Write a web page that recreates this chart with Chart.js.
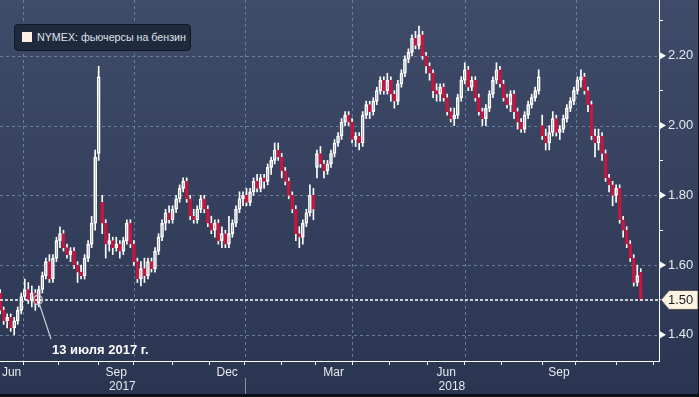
<!DOCTYPE html>
<html>
<head>
<meta charset="utf-8">
<script src="https://cdn.jsdelivr.net/npm/chart.js@4.4.1/dist/chart.umd.min.js"></script>
<style>
    html, body { margin: 0; padding: 0; }
    body {
        width: 699px; height: 397px; overflow: hidden; position: relative;
        background: linear-gradient(to bottom, #3f4c69 0%, #2a3551 100%);
        font-family: "Liberation Sans", Arial, sans-serif;
    }
    #c { position: absolute; left: 0; top: 0; }
    .legend {
        position: absolute; left: 14px; top: 24px; width: 177px; height: 27px;
        box-sizing: border-box; background: #1f2a3d; border: 1px solid #111826; border-radius: 4px;
        color: #dfe3ea; font-size: 10.7px; line-height: 25px; padding-left: 22px; white-space: nowrap;
    }
    .legend i { position: absolute; left: 7px; top: 7px; width: 10px; height: 10px; background: #fdeee6; }
    .note { position: absolute; left: 52px; top: 342px; color: #ffffff; font-weight: bold; font-size: 13px; line-height: 15px; white-space: nowrap; }
</style>
</head>
<body>
<canvas id="c" width="699" height="397"></canvas>
<div class="legend"><i></i>NYMEX: фьючерсы на бензин</div>
<div class="note">13 июля 2017 г.</div>
<script>
// one candle = 2 trading days, day 0 = 13 Jun 2017
const DAYS_PER_CANDLE = 2;

const open = [
    1.52, 1.47, 1.44, 1.45, 1.42, 1.44, 1.47, 1.51, 1.53, 1.50,
    1.52, 1.49, 1.53, 1.57, 1.61, 1.56, 1.62, 1.67, 1.69, 1.65,
    1.63, 1.64, 1.60, 1.58, 1.57, 1.62, 1.66, 1.72, 1.92, 1.78,
    1.72, 1.66, 1.67, 1.65, 1.66, 1.64, 1.67, 1.72, 1.66, 1.61,
    1.56, 1.59, 1.57, 1.61, 1.59, 1.64, 1.68, 1.72, 1.75, 1.73,
    1.76, 1.79, 1.82, 1.84, 1.79, 1.74, 1.73, 1.76, 1.79, 1.76,
    1.72, 1.70, 1.72, 1.67, 1.69, 1.66, 1.69, 1.72, 1.76, 1.79,
    1.80, 1.78, 1.81, 1.84, 1.82, 1.85, 1.84, 1.88, 1.90, 1.93,
    1.91, 1.87, 1.84, 1.80, 1.76, 1.69, 1.68, 1.72, 1.75, 1.80,
    1.88, 1.92, 1.89, 1.87, 1.89, 1.92, 1.95, 1.97, 2.01, 2.03,
    2.01, 1.96, 1.97, 1.95, 2.03, 2.06, 2.04, 2.07, 2.10, 2.13,
    2.10, 2.13, 2.09, 2.07, 2.12, 2.15, 2.19, 2.21, 2.25, 2.23,
    2.26, 2.20, 2.17, 2.15, 2.10, 2.09, 2.11, 2.08, 2.04, 2.02,
    2.03, 2.08, 2.13, 2.16, 2.11, 2.13, 2.08, 2.04, 2.02, 2.05,
    2.09, 2.13, 2.16, 2.12, 2.08, 2.06, 2.09, 2.04, 2.01, 1.99,
    2.03, 2.06, 2.08, 2.10, 2.00, 1.97, 1.95, 1.98, 2.02, 1.98,
    1.99, 2.02, 2.05, 2.07, 2.10, 2.13, 2.14, 2.10, 2.06, 1.97,
    1.95, 1.97, 1.92, 1.85, 1.83, 1.80, 1.82, 1.73, 1.70, 1.66,
    1.62, 1.55, 1.58
];
const high = [
    1.53, 1.48, 1.46, 1.46, 1.45, 1.48, 1.52, 1.56, 1.55, 1.54,
    1.53, 1.54, 1.58, 1.62, 1.63, 1.63, 1.68, 1.71, 1.70, 1.66,
    1.65, 1.65, 1.61, 1.60, 1.63, 1.67, 1.74, 1.93, 2.17, 1.80,
    1.73, 1.69, 1.68, 1.68, 1.67, 1.68, 1.73, 1.73, 1.67, 1.62,
    1.61, 1.62, 1.62, 1.62, 1.65, 1.69, 1.73, 1.76, 1.77, 1.77,
    1.80, 1.83, 1.85, 1.85, 1.80, 1.76, 1.77, 1.80, 1.80, 1.77,
    1.74, 1.73, 1.73, 1.71, 1.70, 1.74, 1.73, 1.77, 1.81, 1.81,
    1.82, 1.82, 1.85, 1.86, 1.86, 1.86, 1.89, 1.91, 1.95, 1.95,
    1.92, 1.88, 1.85, 1.81, 1.77, 1.71, 1.73, 1.76, 1.83, 1.82,
    1.93, 1.94, 1.90, 1.90, 1.93, 1.96, 1.98, 2.02, 2.04, 2.04,
    2.02, 1.98, 1.98, 2.04, 2.07, 2.07, 2.08, 2.11, 2.14, 2.14,
    2.15, 2.14, 2.10, 2.13, 2.16, 2.20, 2.22, 2.26, 2.27, 2.285,
    2.27, 2.21, 2.18, 2.16, 2.12, 2.12, 2.12, 2.09, 2.05, 2.05,
    2.09, 2.14, 2.18, 2.17, 2.14, 2.14, 2.09, 2.05, 2.06, 2.10,
    2.14, 2.18, 2.17, 2.13, 2.09, 2.10, 2.10, 2.05, 2.02, 2.04,
    2.07, 2.09, 2.11, 2.16, 2.03, 1.99, 2.00, 2.04, 2.03, 2.00,
    2.03, 2.06, 2.08, 2.11, 2.14, 2.16, 2.15, 2.11, 2.07, 1.99,
    1.99, 1.98, 1.93, 1.86, 1.84, 1.83, 1.83, 1.74, 1.71, 1.67,
    1.63, 1.60, 1.59
];
const low = [
    1.46, 1.43, 1.42, 1.41, 1.40, 1.43, 1.46, 1.50, 1.49, 1.48,
    1.47, 1.48, 1.52, 1.56, 1.55, 1.55, 1.61, 1.65, 1.64, 1.62,
    1.61, 1.59, 1.55, 1.56, 1.56, 1.61, 1.65, 1.70, 1.90, 1.69,
    1.62, 1.64, 1.63, 1.64, 1.62, 1.63, 1.66, 1.65, 1.60, 1.55,
    1.54, 1.55, 1.56, 1.58, 1.58, 1.63, 1.67, 1.70, 1.72, 1.72,
    1.75, 1.78, 1.81, 1.78, 1.73, 1.72, 1.72, 1.75, 1.75, 1.71,
    1.69, 1.68, 1.66, 1.65, 1.65, 1.65, 1.68, 1.71, 1.75, 1.77,
    1.77, 1.77, 1.80, 1.81, 1.81, 1.82, 1.83, 1.86, 1.89, 1.90,
    1.85, 1.83, 1.79, 1.75, 1.67, 1.65, 1.66, 1.71, 1.74, 1.73,
    1.85, 1.88, 1.85, 1.86, 1.88, 1.91, 1.94, 1.96, 2.00, 2.00,
    1.95, 1.94, 1.93, 1.94, 2.02, 2.02, 2.03, 2.06, 2.09, 2.09,
    2.09, 2.07, 2.05, 2.06, 2.11, 2.14, 2.18, 2.20, 2.22, 2.22,
    2.19, 2.15, 2.13, 2.08, 2.07, 2.07, 2.07, 2.03, 2.01, 2.00,
    2.02, 2.07, 2.12, 2.10, 2.10, 2.07, 2.03, 2.00, 2.00, 2.04,
    2.08, 2.12, 2.11, 2.07, 2.05, 2.04, 2.02, 1.99, 1.98, 1.98,
    2.02, 2.05, 2.07, 2.09, 1.96, 1.93, 1.93, 1.97, 1.97, 1.96,
    1.98, 2.01, 2.04, 2.06, 2.09, 2.11, 2.09, 2.04, 1.96, 1.91,
    1.93, 1.90, 1.84, 1.81, 1.77, 1.78, 1.72, 1.68, 1.65, 1.61,
    1.54, 1.54, 1.50
];
const close = [
    1.47, 1.44, 1.45, 1.42, 1.44, 1.47, 1.51, 1.53, 1.50, 1.52,
    1.49, 1.53, 1.57, 1.61, 1.56, 1.62, 1.67, 1.69, 1.65, 1.63,
    1.64, 1.60, 1.58, 1.57, 1.62, 1.66, 1.72, 1.91, 2.14, 1.72,
    1.66, 1.67, 1.65, 1.66, 1.64, 1.67, 1.72, 1.66, 1.61, 1.56,
    1.59, 1.57, 1.61, 1.59, 1.64, 1.68, 1.72, 1.75, 1.73, 1.76,
    1.79, 1.82, 1.84, 1.79, 1.74, 1.73, 1.76, 1.79, 1.76, 1.72,
    1.70, 1.72, 1.67, 1.69, 1.66, 1.69, 1.72, 1.76, 1.79, 1.80,
    1.78, 1.81, 1.84, 1.82, 1.85, 1.84, 1.88, 1.90, 1.93, 1.91,
    1.87, 1.84, 1.80, 1.76, 1.69, 1.68, 1.72, 1.75, 1.80, 1.76,
    1.92, 1.89, 1.87, 1.89, 1.92, 1.95, 1.97, 2.01, 2.03, 2.01,
    1.96, 1.97, 1.95, 2.03, 2.06, 2.04, 2.07, 2.10, 2.13, 2.10,
    2.13, 2.09, 2.07, 2.12, 2.15, 2.19, 2.21, 2.25, 2.23, 2.26,
    2.20, 2.17, 2.15, 2.10, 2.09, 2.11, 2.08, 2.04, 2.02, 2.03,
    2.08, 2.13, 2.16, 2.11, 2.13, 2.08, 2.04, 2.02, 2.05, 2.09,
    2.13, 2.16, 2.12, 2.08, 2.06, 2.09, 2.04, 2.01, 1.99, 2.03,
    2.06, 2.08, 2.10, 2.14, 1.97, 1.95, 1.98, 2.02, 1.98, 1.99,
    2.02, 2.05, 2.07, 2.10, 2.13, 2.14, 2.10, 2.06, 1.97, 1.95,
    1.97, 1.92, 1.85, 1.83, 1.80, 1.82, 1.73, 1.70, 1.66, 1.62,
    1.55, 1.57, 1.50
];

// x axis in trading days
const monthStartDays = [13.5, 33.5, 56.5, 76.5, 98.5, 119.5, 139.5, 160.5, 179.5, 200.5, 221.5, 243.5, 264.5, 285.5, 308.5, 327.5, 350.5, 371.5];
const quarterStartDays = [13.5, 76.5, 139.5, 200.5, 264.5, 327.5];
const monthLabels = ['Jun', 'Sep', 'Dec', 'Mar', 'Jun', 'Sep'];
const monthLabelDays = [7, 66.5, 129.5, 190, 254, 318];
const yearLabels = ['2017', '2018'];
const yearLabelDays = [70, 257.2];
const yearStartDay = 139.5;

const yTickValues = [1.4, 1.5, 1.6, 1.7, 1.8, 1.9, 2.0, 2.1, 2.2, 2.3];
const yMajor = [1.4, 1.6, 1.8, 2.0, 2.2];

const noteDay = 22;   // 13 Jul 2017
const noteValue = 1.50;

const RED = '#c4173f';
const WHITE = '#ffffff';
const GRID = 'rgba(118, 140, 172, 0.8)';
const TEXT = '#e6e9ef';
const FONT = '"Liberation Sans", Arial, sans-serif';
const CLEAR = 'rgba(0,0,0,0)';

const isMajor = v => yMajor.some(m => Math.abs(m - v) < 1e-6);
const isUp = i => close[i] >= open[i];
const dayOf = i => i * DAYS_PER_CANDLE + 0.5;

const bodies = close.map((c, i) => ({ x: dayOf(i), y: [Math.min(open[i], c), Math.max(open[i], c)] }));
const wickHigh = close.map((c, i) => ({ x: dayOf(i), y: [Math.max(open[i], c), high[i]] }));
const wickLow = close.map((c, i) => ({ x: dayOf(i), y: [low[i], Math.min(open[i], c)] }));

const overlay = {
    id: 'overlay',
    beforeDatasetsDraw(chart) {
        // dashed grid at quarter starts and labelled prices
        const { ctx, chartArea: a, scales: { x, y } } = chart;
        ctx.save();
        ctx.strokeStyle = GRID;
        ctx.lineWidth = 1;
        ctx.setLineDash([3, 3]);
        quarterStartDays.forEach(d => {
            const gx = Math.round(x.getPixelForValue(d)) + 0.5;
            ctx.beginPath();
            ctx.moveTo(gx, a.top);
            ctx.lineTo(gx, a.bottom);
            ctx.stroke();
        });
        yMajor.forEach(v => {
            const gy = Math.round(y.getPixelForValue(v)) + 0.5;
            ctx.beginPath();
            ctx.moveTo(a.left, gy);
            ctx.lineTo(a.right, gy);
            ctx.stroke();
        });
        ctx.restore();
    },
    afterDatasetsDraw(chart) {
        const { ctx, chartArea: a, scales: { x, y } } = chart;
        const py = y.getPixelForValue(close[close.length - 1]);
        ctx.save();
        ctx.strokeStyle = WHITE;
        ctx.lineWidth = 1.5;
        ctx.setLineDash([3, 2]);
        ctx.beginPath();
        ctx.moveTo(a.left, py);
        ctx.lineTo(a.right, py);
        ctx.stroke();
        ctx.setLineDash([]);

        const ax = x.getPixelForValue(noteDay), ay = y.getPixelForValue(noteValue);
        ctx.strokeStyle = '#c7ccd6';
        ctx.lineWidth = 1.2;
        ctx.beginPath();
        ctx.arc(ax, ay, 4.5, 0, Math.PI * 2);
        ctx.stroke();
        ctx.beginPath();
        ctx.moveTo(ax + 1.5, ay + 4.3);
        ctx.lineTo(51, 339);
        ctx.stroke();
        ctx.restore();
    },
    afterDraw(chart) {
        const { ctx, chartArea: a, scales: { x, y } } = chart;
        ctx.save();
        // triangles on the labelled price ticks
        ctx.fillStyle = WHITE;
        yMajor.forEach(v => {
            const ty = y.getPixelForValue(v);
            ctx.beginPath();
            ctx.moveTo(a.right + 1, ty - 3.5);
            ctx.lineTo(a.right + 7, ty);
            ctx.lineTo(a.right + 1, ty + 3.5);
            ctx.closePath();
            ctx.fill();
        });

        // last price tag
        const last = close[close.length - 1];
        const py = y.getPixelForValue(last);
        const tx = a.right + 2;
        ctx.beginPath();
        ctx.moveTo(tx, py);
        ctx.lineTo(tx + 8, py - 9.5);
        ctx.lineTo(698, py - 9.5);
        ctx.lineTo(698, py + 9.5);
        ctx.lineTo(tx + 8, py + 9.5);
        ctx.closePath();
        ctx.fillStyle = '#fdf3e2';
        ctx.fill();
        ctx.strokeStyle = '#5a5048';
        ctx.lineWidth = 1;
        ctx.stroke();
        ctx.fillStyle = '#1a1c22';
        ctx.font = '13px ' + FONT;
        ctx.textBaseline = 'middle';
        ctx.fillText(last.toFixed(2), tx + 7, py + 0.5);

        // year separator under the axis
        const sx = Math.round(x.getPixelForValue(yearStartDay)) + 0.5;
        ctx.strokeStyle = '#8a93a5';
        ctx.beginPath();
        ctx.moveTo(sx, a.bottom + 17);
        ctx.lineTo(sx, 394);
        ctx.stroke();

        // frame
        ctx.fillStyle = '#0c1016';
        ctx.fillRect(0, 394, 699, 3);
        ctx.fillRect(698, 0, 1, 397);
        ctx.restore();
    }
};

new Chart(document.getElementById('c'), {
    type: 'bar',
    data: {
        datasets: [{
            label: 'body',
            data: bodies,
            barThickness: 3,
            grouped: false,
            borderSkipped: false,
            borderWidth: 1,
            backgroundColor: c => isUp(c.dataIndex) ? CLEAR : RED,
            borderColor: c => isUp(c.dataIndex) ? WHITE : RED
        }, {
            label: 'high',
            data: wickHigh,
            barThickness: 1,
            grouped: false,
            borderWidth: 0,
            backgroundColor: WHITE
        }, {
            label: 'low',
            data: wickLow,
            barThickness: 1,
            grouped: false,
            borderWidth: 0,
            backgroundColor: WHITE
        }]
    },
    options: {
        responsive: false,
        animation: false,
        layout: { padding: 0 },
        plugins: { legend: { display: false }, tooltip: { enabled: false } },
        scales: {
            x: {
                type: 'linear',
                position: 'bottom',
                bounds: 'data',
                offset: false,
                min: 0.43,
                max: 374.86,
                afterBuildTicks: s => {
                    const vals = [...monthStartDays, ...monthLabelDays, ...yearLabelDays].sort((p, q) => p - q);
                    s.ticks = vals.map(v => ({ value: v }));
                },
                afterFit: s => { s.height = 36; s.paddingLeft = 0; s.paddingRight = 0; },
                grid: {
                    offset: false,
                    drawOnChartArea: false,
                    tickLength: 4,
                    tickColor: c => c.tick && monthStartDays.includes(c.tick.value) ? WHITE : CLEAR
                },
                border: { display: true, color: WHITE, width: 1 },
                ticks: {
                    autoSkip: false,
                    maxRotation: 0,
                    padding: 0,
                    color: TEXT,
                    font: { size: 12, family: FONT },
                    callback: v => {
                        const m = monthLabelDays.indexOf(v);
                        if (m >= 0) return monthLabels[m];
                        const yr = yearLabelDays.indexOf(v);
                        if (yr >= 0) return ['', yearLabels[yr]];
                        return '';
                    }
                }
            },
            y: {
                type: 'linear',
                position: 'right',
                bounds: 'data',
                min: 1.325,
                max: 2.36,
                afterBuildTicks: s => { s.ticks = yTickValues.map(v => ({ value: v })); },
                afterFit: s => { s.width = 40; s.paddingTop = 0; s.paddingBottom = 0; },
                grid: {
                    drawOnChartArea: false,
                    tickLength: 4,
                    tickColor: c => c.tick && !isMajor(c.tick.value) ? WHITE : CLEAR
                },
                border: { display: true, color: WHITE, width: 1 },
                ticks: {
                    padding: 5,
                    color: TEXT,
                    font: { size: 13, family: FONT },
                    callback: v => isMajor(v) ? v.toFixed(2) : ''
                }
            }
        }
    },
    plugins: [overlay]
});
</script>
</body>
</html>
